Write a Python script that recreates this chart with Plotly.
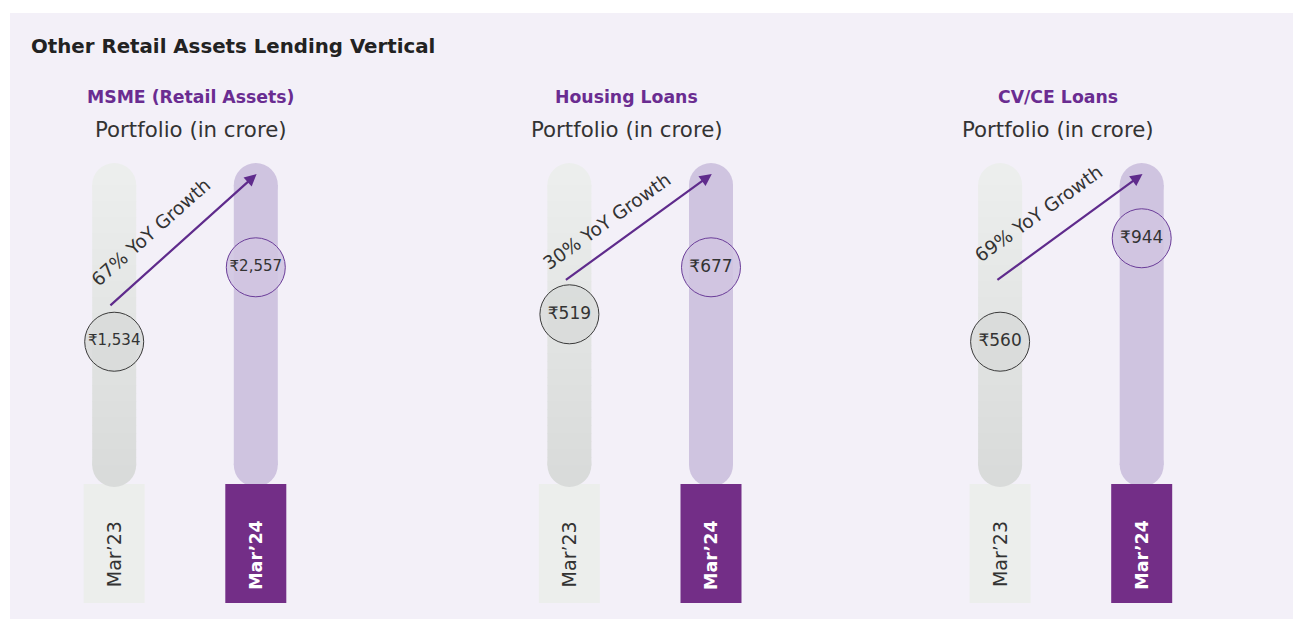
import plotly.graph_objects as go

# ---------------- data ----------------
title = "Other Retail Assets Lending Vertical"
panels = ["MSME (Retail Assets)", "Housing Loans", "CV/CE Loans"]
subtitle = "Portfolio (in crore)"
periods = ["Mar\u201923", "Mar\u201924"]
mar23 = [1534, 519, 560]
mar24 = [2557, 677, 944]

# ---------------- layout constants (reference-screen pixels) ----------------
OFF = 8                                   # page body margin
W, H = 1301 - OFF, 619 - OFF              # figure size
TOP, BOT = 163, 603                       # pixel rows of each panel's plot area
left_centres = [114.2, 569.4, 1000.1]     # pixel x of the Mar'23 column
SP = 141.6                                # pixel spacing between the two columns
yranges = [(-2058, 3991), (-451.4, 1027.6), (-410.3, 1223.5)]
growth_angles = [-41.5, -35.5, -35.5]
arrow_tail = [(-147.7, 132.7), (-147.4, 107.0), (-146.6, 107.0)]
growth_pos = [(0.255, 232.0), (0.262, 221.0), (0.272, 213.5)]
value_font = [15, 17, 17]
head_x = [190.5, 626.5, 1057.5]

FONT = "DejaVu Sans"
BG = "#f3f0f8"
PURPLE = "#5f2b8c"
BOX_PURPLE = "#732e87"
PILL_PURPLE = "#cfc4e0"
BOX_GRAY = "#eceeec"


def px(x):
    return (x - OFF) / W


def py(y):
    return 1 - (y - OFF) / H


def dom(p):
    return (BOT - p) / (BOT - TOP)


def gray_at(p):
    t = min(max((p - 163) / (487 - 163), 0), 1)
    top = (237, 239, 238)
    bot = (216, 218, 217)
    c = [round(top[k] + (bot[k] - top[k]) * t) for k in range(3)]
    return "rgb(%d,%d,%d)" % tuple(c)


fig = go.Figure()
shapes = []
annotations = []

# panel background
shapes.append(dict(type="rect", xref="paper", yref="paper", x0=px(10), x1=px(1300),
                   y0=0, y1=py(13), fillcolor=BG, line=dict(width=0), layer="below"))

for i in range(3):
    n = "" if i == 0 else str(i + 1)
    xr, yr = "x" + n, "y" + n
    yd = yr + " domain"
    fig.update_layout(**{
        "xaxis" + n: dict(domain=[px(left_centres[i] - SP / 2), px(left_centres[i] + SP * 1.5)],
                          range=[-0.5, 1.5], visible=False, showgrid=False,
                          zeroline=False, fixedrange=True, anchor=yr),
        "yaxis" + n: dict(domain=[py(BOT), py(TOP)], range=list(yranges[i]),
                          visible=False, showgrid=False, zeroline=False,
                          fixedrange=True, anchor=xr),
    })

    # Mar'23 label box (drawn under gray pill)
    shapes.append(dict(type="rect", xref=xr, yref=yd, xsizemode="pixel", xanchor=0,
                       x0=-30.5, x1=30.5, y0=dom(603), y1=dom(484),
                       fillcolor=BOX_GRAY, line=dict(width=0), layer="below"))
    # gray pill with gradient
    for cy in (185, 465):
        shapes.append(dict(type="circle", xref=xr, yref=yd, xsizemode="pixel",
                           ysizemode="pixel", xanchor=0, yanchor=dom(cy),
                           x0=-22, x1=22, y0=-22, y1=22,
                           fillcolor=gray_at(cy), line=dict(width=0), layer="below"))
    p = 185
    while p < 465:
        q = min(p + 8, 465)
        shapes.append(dict(type="rect", xref=xr, yref=yd, xsizemode="pixel", xanchor=0,
                           x0=-22, x1=22, y0=dom(q + 0.6), y1=dom(p),
                           fillcolor=gray_at((p + q) / 2), line=dict(width=0), layer="below"))
        p = q
    # purple pill
    for cy in (185, 465):
        shapes.append(dict(type="circle", xref=xr, yref=yd, xsizemode="pixel",
                           ysizemode="pixel", xanchor=1, yanchor=dom(cy),
                           x0=-22, x1=22, y0=-22, y1=22,
                           fillcolor=PILL_PURPLE, line=dict(width=0), layer="below"))
    shapes.append(dict(type="rect", xref=xr, yref=yd, xsizemode="pixel", xanchor=1,
                       x0=-22, x1=22, y0=dom(465), y1=dom(185),
                       fillcolor=PILL_PURPLE, line=dict(width=0), layer="below"))
    # Mar'24 label box (over purple pill)
    shapes.append(dict(type="rect", xref=xr, yref=yd, xsizemode="pixel", xanchor=1,
                       x0=-30.5, x1=30.5, y0=dom(603), y1=dom(484),
                       fillcolor=BOX_PURPLE, line=dict(width=0), layer="below"))

    # period labels
    annotations.append(dict(xref=xr, yref=yd, x=0, y=dom(554), text=periods[0],
                            textangle=-90, showarrow=False, xanchor="center", yanchor="middle",
                            font=dict(family=FONT, size=19, color="#333333")))
    annotations.append(dict(xref=xr, yref=yd, x=1, y=dom(555), text="<b>%s</b>" % periods[1],
                            textangle=-90, showarrow=False, xanchor="center", yanchor="middle",
                            font=dict(family=FONT, size=17.5, color="white")))

    # value circles
    vals = [mar23[i], mar24[i]]
    fig.add_trace(go.Scatter(
        x=[0, 1], y=vals, xaxis=xr, yaxis=yr, mode="markers+text",
        text=["\u20b9{:,}".format(v) for v in vals], textposition="middle center",
        textfont=dict(family=FONT, size=value_font[i], color="#333333"),
        marker=dict(size=59, color=["rgba(216,218,217,0.85)", "rgba(208,197,225,0.9)"],
                    line=dict(color=["#3a3a3a", "#6b3d99"], width=1)),
        cliponaxis=False, hoverinfo="skip", showlegend=False))

    # growth arrow
    annotations.append(dict(xref=xr, yref=yd, x=1 + 0.8 / SP, y=dom(174), text="",
                            showarrow=True, ax=arrow_tail[i][0], ay=arrow_tail[i][1],
                            arrowhead=2, arrowsize=1.1, arrowwidth=2.2,
                            arrowcolor=PURPLE, standoff=0, startstandoff=0))
    g = round((mar24[i] / mar23[i] - 1) * 100)
    gx, gy = growth_pos[i]
    annotations.append(dict(xref=xr, yref=yd, x=gx, y=dom(gy),
                            text="%d%% YoY Growth" % g, textangle=growth_angles[i],
                            showarrow=False, xanchor="center", yanchor="middle",
                            font=dict(family=FONT, size=18.5, color="#333333")))

    # panel headings
    annotations.append(dict(xref="paper", yref="paper", x=px(head_x[i]), y=py(97.5),
                            text="<b>%s</b>" % panels[i], showarrow=False,
                            xanchor="center", yanchor="middle",
                            font=dict(family=FONT, size=17.3, color="#6a2c91")))
    annotations.append(dict(xref="paper", yref="paper", x=px(head_x[i]), y=py(129),
                            text=subtitle, showarrow=False,
                            xanchor="center", yanchor="middle",
                            font=dict(family=FONT, size=21.3, color="#333333")))

annotations.append(dict(xref="paper", yref="paper", x=px(29), y=py(46),
                        xanchor="left", yanchor="middle", text="<b>%s</b>" % title,
                        showarrow=False, font=dict(family=FONT, size=19.8, color="#222222")))

fig.update_layout(width=W, height=H, margin=dict(l=0, r=0, t=0, b=0),
                  paper_bgcolor="white", plot_bgcolor="rgba(0,0,0,0)",
                  showlegend=False, shapes=shapes, annotations=annotations)

fig.write_html("out.html")
